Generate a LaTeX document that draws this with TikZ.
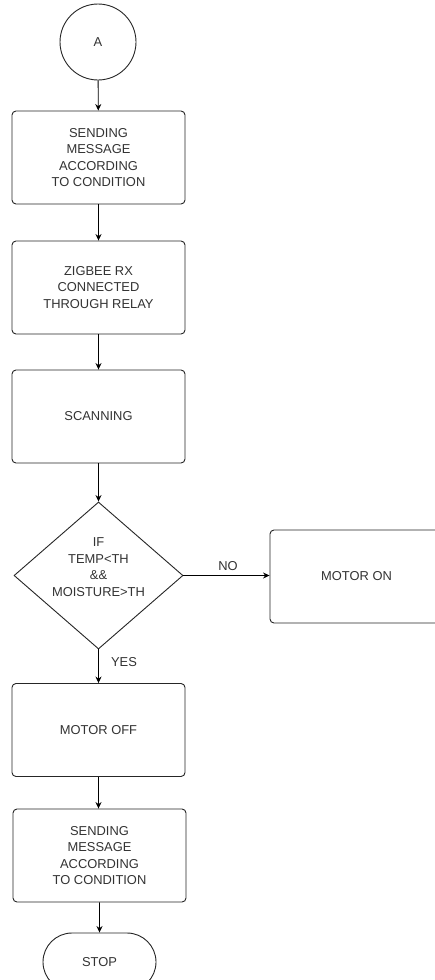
\documentclass[tikz,border=0pt]{standalone}
\usepackage{fontspec}
\setmainfont{Liberation Sans}
\usetikzlibrary{shapes.geometric,shapes.misc,arrows.meta}
\begin{document}
\begin{tikzpicture}[x=1pt,y=-1pt,
  txt/.style={text=black!80, font=\fontsize{12.9}{16.6}\selectfont, align=center},
  box/.style={txt, draw=black!85, line width=0.9pt, rounded corners=4pt, minimum width=173pt, minimum height=93pt, inner sep=0pt},
  arr/.style={-{Stealth[length=6.5pt,width=6pt]}, line width=0.9pt, draw=black},
  lbl/.style={txt}]
\clip (0,0) rectangle (435,980);
\fill[white] (0,0) rectangle (435,980);
\node[txt, circle, draw=black!85, line width=0.9pt, minimum size=76pt, inner sep=0pt] (A) at (98,42) {A};
\node[box] (b1) at (98.5,157.5) {SENDING\\MESSAGE\\ACCORDING\\TO CONDITION};
\node[box] (b2) at (98.5,287.5) {ZIGBEE RX\\CONNECTED\\THROUGH RELAY};
\node[box] (b3) at (98.5,416.5) {SCANNING};
\node[diamond, draw=black!85, line width=0.9pt, minimum width=169pt, minimum height=147pt, inner sep=0pt] (d) at (98.5,575.5) {};
\node[txt] (dt) at (98.5,567) {IF\\TEMP<TH\\\&\&\\MOISTURE>TH};
\node[box] (on) at (356.5,576.5) {MOTOR ON};
\node[box] (off) at (98.5,730) {MOTOR OFF};
\node[box] (b6) at (99.5,855.5) {SENDING\\MESSAGE\\ACCORDING\\TO CONDITION};
\node[txt, rounded rectangle, draw=black!85, line width=0.9pt, minimum width=113pt, minimum height=58pt, inner sep=0pt] (stop) at (99.5,962) {STOP};
\draw[arr] (A) -- (b1);
\draw[arr] (b1) -- (b2);
\draw[arr] (b2) -- (b3);
\draw[arr] (b3) -- (d);
\draw[arr] (d.east) -- (d.east -| on.west);
\draw[arr] (d) -- (off);
\draw[arr] (off.south) -- (off.south |- b6.north);
\draw[arr] (b6) -- (stop);
\node[lbl] (no) at (228,566) {NO};
\node[lbl] (yes) at (124,662) {YES};
\end{tikzpicture}
\end{document}
